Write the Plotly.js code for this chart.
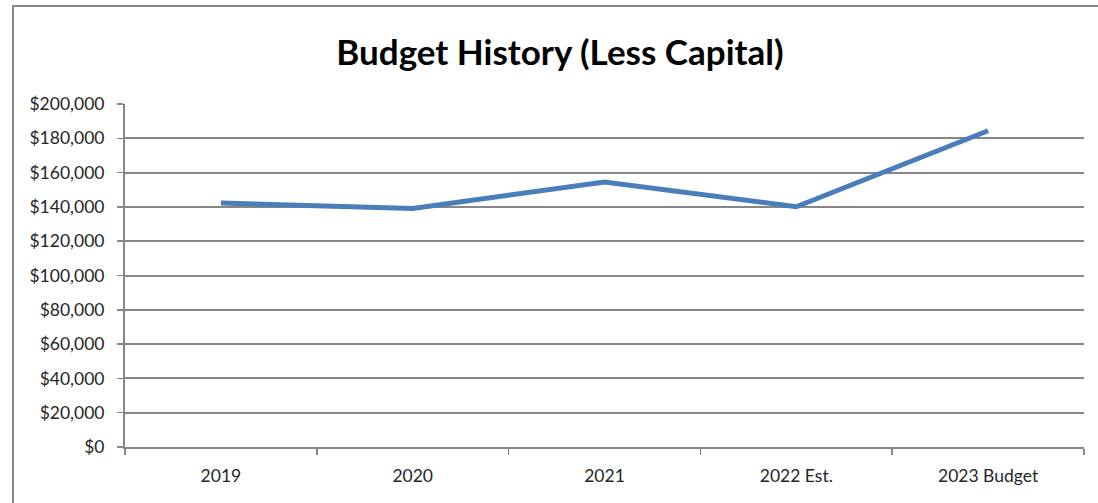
<!DOCTYPE html>
<html><head><meta charset="utf-8">
<script src="https://cdn.plot.ly/plotly-3.0.1.min.js"></script>
<style>html,body{margin:0;padding:0;background:#fff;}#chart{width:1098px;height:503px;}</style>
</head><body><div id="chart"></div>
<script>
const categories = ["2019", "2020", "2021", "2022 Est.", "2023 Budget"];
const budget = [142300, 139100, 154500, 140100, 184400];
const yTickVals = [0, 20000, 40000, 60000, 80000, 100000, 120000, 140000, 160000, 180000, 200000];
const yTickText = ["$0", "$20,000", "$40,000", "$60,000", "$80,000", "$100,000", "$120,000", "$140,000", "$160,000", "$180,000", "$200,000"];

const grid = "#878787";
const font = "Lato, 'Open Sans', sans-serif";
Plotly.newPlot("chart", [{
  x: categories, y: budget, type: "scatter", mode: "lines",
  line: {color: "#4A7EBB", width: 5}, hoverinfo: "skip"
}], {
  width: 1098, height: 503,
  margin: {l: 125, r: 14, t: 104, b: 56},
  paper_bgcolor: "#fff", plot_bgcolor: "#fff",
  showlegend: false,
  title: {text: "<b>Budget History (Less Capital)</b>", x: 0.51, xanchor: "center", y: 0.895, yanchor: "middle",
          font: {family: font, size: 35, color: "#000"}},
  xaxis: {type: "category", range: [-0.5, 4.5], tickson: "boundaries", ticks: "outside", ticklen: 6,
          tickcolor: grid, tickwidth: 1.5, showline: true, linecolor: grid, linewidth: 2, showgrid: false,
          ticklabelstandoff: 12,
          zeroline: false, tickfont: {family: font, size: 17.5, color: "#262626"}, fixedrange: true},
  yaxis: {range: [0, 200000], tickvals: yTickVals, ticktext: yTickText, ticks: "outside", ticklen: 6,
          tickcolor: grid, tickwidth: 1.5, showline: true, linecolor: grid, linewidth: 2, showgrid: true,
          ticklabelstandoff: 9,
          gridcolor: grid, gridwidth: 2, zeroline: false, tickfont: {family: font, size: 17.5, color: "#262626"},
          fixedrange: true},
  shapes: [{type: "rect", xref: "paper", yref: "paper", x0: -0.1168, x1: 1.08, y0: -0.25, y1: 1.2857,
            line: {color: grid, width: 2}, fillcolor: "rgba(0,0,0,0)", layer: "below"}]
}, {displayModeBar: false, staticPlot: true});
</script></body></html>
